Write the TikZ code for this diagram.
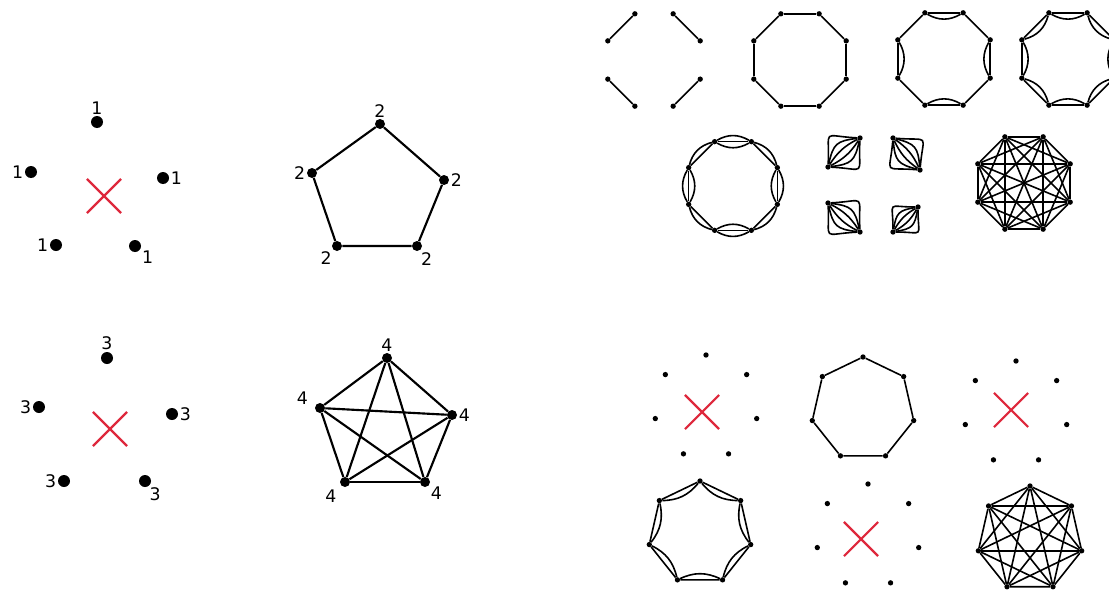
\documentclass[tikz,border=0pt]{standalone}
\usepackage{fontspec}
\setmainfont{DejaVu Sans}
\usetikzlibrary{shapes.misc,positioning}
\definecolor{crossred}{RGB}{222,40,60}

\begin{document}
\begin{tikzpicture}[x=0.75pt, y=-0.75pt,
	bigdot/.style={circle, fill=black, inner sep=0pt, minimum size=9pt},
	middot/.style={circle, fill=black, inner sep=0pt, minimum size=7.5pt},
	smalldot/.style={circle, fill=black, inner sep=0pt, minimum size=4pt},
	deg/.style={font=\fontsize{13}{15}\selectfont, inner sep=1pt},
	edge/.style={line width=1.6pt},
	fine/.style={line width=1.2pt},
	nope/.style={draw=crossred, cross out, line width=1.6pt, minimum size=24pt}]

	\useasboundingbox (0,0) rectangle (1109,592);

	% Degree 1 on five vertices
	\node[bigdot, label={[deg]above:1}] (a1) at (97,122) {};
	\node[bigdot, label={[deg]left:1}] (a2) at (31,172) {};
	\node[bigdot, label={[deg]right:1}] (a3) at (163,178) {};
	\node[bigdot, label={[deg]left:1}] (a4) at (56,245) {};
	\node[bigdot, label={[deg]-30:1}] (a5) at (135,246) {};
	\node[nope] (xa) at (104,196) {};

	% Degree 2: pentagon
	\node[middot, label={[deg]above:2}] (b1) at (380,124) {};
	\node[middot, label={[deg]left:2}] (b2) at (312,173) {};
	\node[middot, label={[deg]right:2}] (b3) at (444,180) {};
	\node[middot, label={[deg]-135:2}] (b4) at (337,246) {};
	\node[middot, label={[deg]-60:2}] (b5) at (417,246) {};
	\draw[edge] (b1) -- (b3) -- (b5) -- (b4) -- (b2) -- (b1);

	% Degree 3 on five vertices
	\node[bigdot, label={[deg]above:3}] (c1) at (107,358) {};
	\node[bigdot, label={[deg]left:3}] (c2) at (39,407) {};
	\node[bigdot, label={[deg]right:3}] (c3) at (172,414) {};
	\node[bigdot, label={[deg]left:3}] (c4) at (64,481) {};
	\node[bigdot, label={[deg]-60:3}] (c5) at (145,481) {};
	\node[nope] (xc) at (110,429) {};

	% Degree 4: K5
	\node[middot, label={[deg]above:4}] (d1) at (387,358) {};
	\node[middot, label={[deg, label distance=4pt]170:4}] (d2) at (320,408) {};
	\node[middot, label={[deg]right:4}] (d3) at (452,415) {};
	\node[middot, label={[deg, label distance=3pt]-140:4}] (d4) at (345,482) {};
	\node[middot, label={[deg]-35:4}] (d5) at (425,482) {};
	\foreach \i/\j in {1/2,1/3,1/4,1/5,2/3,2/4,2/5,3/4,3/5,4/5}
		\draw[edge] (d\i) -- (d\j);

	% Eight vertices: degree 1
	\begin{scope}[shift={(654,60)}]
		\foreach \i in {1,...,8} \node[smalldot] (m\i) at ({45*\i-22.5}:50) {};
		\foreach \i/\j in {1/2,3/4,5/6,7/8} \draw[fine] (m\i) -- (m\j);
	\end{scope}

	% degree 2
	\begin{scope}[shift={(800,60)}]
		\foreach \i in {1,...,8} \node[smalldot] (n\i) at ({45*\i-22.5}:50) {};
		\foreach \i in {1,...,8} {
			\pgfmathtruncatemacro{\j}{mod(\i,8)+1}
			\draw[fine] (n\i) -- (n\j);
		}
	\end{scope}

	% degree 3
	\begin{scope}[shift={(944,59)}]
		\foreach \i in {1,...,8} \node[smalldot] (o\i) at ({45*\i-22.5}:50) {};
		\foreach \i in {1,...,8} {
			\pgfmathtruncatemacro{\j}{mod(\i,8)+1}
			\draw[fine] (o\i) -- (o\j);
		}
		\foreach \i in {2,4,6,8} {
			\pgfmathtruncatemacro{\j}{mod(\i,8)+1}
			\draw[fine] (o\i) to[bend right=30] (o\j);
		}
	\end{scope}

	% degree 4
	\begin{scope}[shift={(1068,59)}]
		\foreach \i in {1,...,8} \node[smalldot] (p\i) at ({45*\i-22.5}:50) {};
		\foreach \i in {1,...,8} {
			\pgfmathtruncatemacro{\j}{mod(\i,8)+1}
			\draw[fine] (p\i) -- (p\j);
			\draw[fine] (p\i) to[bend right=30] (p\j);
		}
	\end{scope}

	% degree 5
	\begin{scope}[shift={(733,186)}]
		\foreach \i in {1,...,8} \node[smalldot] (q\i) at ({45*\i-22.5}:48) {};
		\foreach \i in {1,...,8} {
			\pgfmathtruncatemacro{\j}{mod(\i,8)+1}
			\draw[fine] (q\i) -- (q\j);
			\draw[fine] (q\i) to[bend left=30] (q\j);
		}
		\foreach \i in {2,4,6,8} {
			\pgfmathtruncatemacro{\j}{mod(\i,8)+1}
			\draw[fine] (q\i) to[bend right=30] (q\j);
		}
	\end{scope}

	% degree 6: four pairs
	\node[smalldot] (r1) at (828,167) {};
	\node[smalldot] (s1) at (860,138) {};
	\node[smalldot] (r2) at (893,138) {};
	\node[smalldot] (s2) at (920,170) {};
	\node[smalldot] (r3) at (828,203) {};
	\node[smalldot] (s3) at (860,232) {};
	\node[smalldot] (r4) at (893,232) {};
	\node[smalldot] (s4) at (918,207) {};
	\foreach \k in {1,...,4}
		\foreach \b/\l in {15/1,35/1.4,45/2.4} {
			\draw[fine] (r\k) to[bend left=\b, looseness=\l] (s\k);
			\draw[fine] (r\k) to[bend right=\b, looseness=\l] (s\k);
		}

	% degree 7: K8
	\begin{scope}[shift={(1024,183)}]
		\foreach \i in {1,...,8} \node[smalldot] (k\i) at ({45*\i-22.5}:50) {};
		\foreach \i in {1,...,7} {
			\pgfmathtruncatemacro{\k}{\i+1}
			\foreach \j in {\k,...,8} \draw[fine] (k\i) -- (k\j);
		}
	\end{scope}

	% Seven vertices: degree 1
	\begin{scope}[shift={(706,407)}]
		\foreach \i in {1,...,7} \node[smalldot] (u\i) at ({-90+360/7*(\i-1)}:52) {};
	\end{scope}
	\node[nope] (xu) at (702,412) {};

	% degree 2
	\begin{scope}[shift={(863,409)}]
		\foreach \i in {1,...,7} \node[smalldot] (v\i) at ({-90+360/7*(\i-1)}:52) {};
		\foreach \i in {1,...,7} {
			\pgfmathtruncatemacro{\j}{mod(\i,7)+1}
			\draw[fine] (v\i) -- (v\j);
		}
	\end{scope}

	% degree 3
	\begin{scope}[shift={(1016,413)}]
		\foreach \i in {1,...,7} \node[smalldot] (w\i) at ({-90+360/7*(\i-1)}:52) {};
	\end{scope}
	\node[nope] (xw) at (1011,410) {};

	% degree 4
	\begin{scope}[shift={(700,533)}]
		\foreach \i in {1,...,7} \node[smalldot] (y\i) at ({-90+360/7*(\i-1)}:52) {};
		\foreach \i in {1,...,7} {
			\pgfmathtruncatemacro{\j}{mod(\i,7)+1}
			\draw[fine] (y\i) -- (y\j);
			\draw[fine] (y\i) to[bend right=25] (y\j);
		}
	\end{scope}

	% degree 5
	\begin{scope}[shift={(868,536)}]
		\foreach \i in {1,...,7} \node[smalldot] (z\i) at ({-90+360/7*(\i-1)}:52) {};
	\end{scope}
	\node[nope] (xz) at (861,539) {};

	% degree 6: K7
	\begin{scope}[shift={(1030,539)}]
		\foreach \i in {1,...,7} \node[smalldot] (h\i) at ({-90+360/7*(\i-1)}:53) {};
		\foreach \i in {1,...,6} {
			\pgfmathtruncatemacro{\k}{\i+1}
			\foreach \j in {\k,...,7} \draw[fine] (h\i) -- (h\j);
		}
	\end{scope}
\end{tikzpicture}
\end{document}
